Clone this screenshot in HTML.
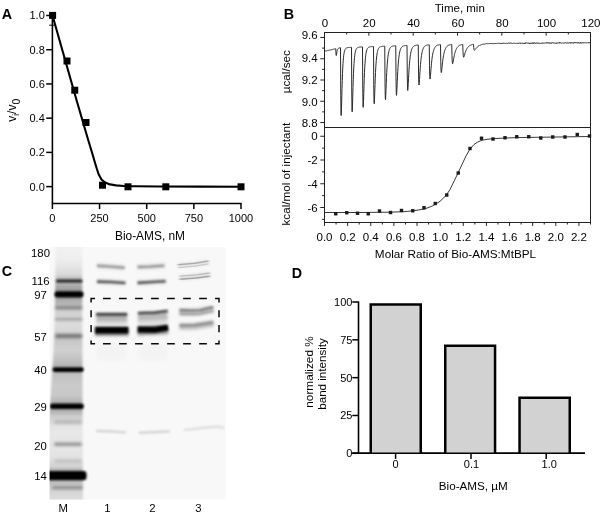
<!DOCTYPE html>
<html><head><meta charset="utf-8"><title>Figure</title>
<style>
html,body{margin:0;padding:0;background:#fff;}
body{width:600px;height:516px;overflow:hidden;}
svg{display:block;font-family:"Liberation Sans", Arial, Helvetica, sans-serif;fill:#000;}
svg path, svg rect{shape-rendering:auto}
</style></head><body>
<svg width="600" height="516" viewBox="0 0 600 516">
<rect width="600" height="516" fill="#fff"/>
<g id="panelC">
<text x="1.8" y="276" font-size="14.3" font-weight="bold">C</text>
<defs>
<filter id="b0" filterUnits="userSpaceOnUse" x="40" y="240" width="195" height="268"><feGaussianBlur stdDeviation="0.9 0.7"/></filter>
<filter id="b1" filterUnits="userSpaceOnUse" x="40" y="240" width="195" height="268"><feGaussianBlur stdDeviation="1.2 1.0"/></filter>
<filter id="b2" filterUnits="userSpaceOnUse" x="40" y="240" width="195" height="268"><feGaussianBlur stdDeviation="1.6 1.5"/></filter>
<filter id="b3" filterUnits="userSpaceOnUse" x="40" y="240" width="195" height="268"><feGaussianBlur stdDeviation="2 2.5"/></filter>
<filter id="bl" x="-20%" y="-5%" width="140%" height="110%"><feGaussianBlur stdDeviation="1.3 0.1"/></filter>
<linearGradient id="lane" gradientUnits="userSpaceOnUse" x1="0" y1="247.0" x2="0" y2="499.6"><stop offset="0.0000" stop-color="#f2f2f2"/><stop offset="0.0435" stop-color="#eeeeee"/><stop offset="0.0752" stop-color="#e6e6e6"/><stop offset="0.1069" stop-color="#dadada"/><stop offset="0.1227" stop-color="#c4c4c4"/><stop offset="0.1504" stop-color="#b0b0b0"/><stop offset="0.1663" stop-color="#a0a0a0"/><stop offset="0.2059" stop-color="#a8a8a8"/><stop offset="0.2257" stop-color="#b8b8b8"/><stop offset="0.2534" stop-color="#d0d0d0"/><stop offset="0.2732" stop-color="#d4d4d4"/><stop offset="0.3009" stop-color="#dcdcdc"/><stop offset="0.3286" stop-color="#d8d8d8"/><stop offset="0.3721" stop-color="#c8c8c8"/><stop offset="0.4078" stop-color="#d0d0d0"/><stop offset="0.4394" stop-color="#c4c4c4"/><stop offset="0.4711" stop-color="#b4b4b4"/><stop offset="0.5028" stop-color="#c0c0c0"/><stop offset="0.5463" stop-color="#cacaca"/><stop offset="0.5859" stop-color="#c8c8c8"/><stop offset="0.6136" stop-color="#b4b4b4"/><stop offset="0.6492" stop-color="#b0b0b0"/><stop offset="0.6690" stop-color="#cccccc"/><stop offset="0.7086" stop-color="#e2e2e2"/><stop offset="0.7324" stop-color="#e8e8e8"/><stop offset="0.7561" stop-color="#e6e6e6"/><stop offset="0.8036" stop-color="#e6e6e6"/><stop offset="0.8353" stop-color="#e2e2e2"/><stop offset="0.8670" stop-color="#d4d4d4"/><stop offset="0.8828" stop-color="#b8b8b8"/><stop offset="0.9264" stop-color="#bcbcbc"/><stop offset="0.9699" stop-color="#d6d6d6"/><stop offset="1.0000" stop-color="#dcdcdc"/></linearGradient>
<clipPath id="gelclip"><rect x="49.6" y="247.0" width="175.8" height="252.60000000000002"/></clipPath>
</defs>
<rect x="49.6" y="247.0" width="175.8" height="252.60000000000002" fill="#f8f8f8"/>
<g clip-path="url(#gelclip)">
<path d="M55.6 245.0L55 300L53.6 350L51.4 385L49 420L47 460L46.5 501.6L83 501.6L82.6 400L82.2 245.0Z" fill="url(#lane)" filter="url(#bl)"/>
<rect x="56" y="279.5" width="26.5" height="3.0" rx="1.5" fill="#111" opacity="0.9" filter="url(#b1)"/>
<rect x="54.5" y="291.2" width="29.0" height="6.4" rx="3" fill="#000" opacity="1" filter="url(#b1)"/>
<rect x="55" y="306.2" width="27.5" height="3.0" rx="1.5" fill="#444" opacity="0.55" filter="url(#b2)"/>
<rect x="55" y="318.1" width="27.5" height="2.4" rx="1.2" fill="#555" opacity="0.45" filter="url(#b2)"/>
<rect x="55" y="333.7" width="27.5" height="4.6" rx="2.3" fill="#333" opacity="0.55" filter="url(#b2)"/>
<rect x="52.5" y="367.20000000000005" width="31.299999999999997" height="4.8" rx="2.4" fill="#000" opacity="1" filter="url(#b1)"/>
<rect x="50" y="403.5" width="33.8" height="5.6" rx="2.8" fill="#000" opacity="1" filter="url(#b1)"/>
<rect x="54" y="420.5" width="28" height="3.0" rx="1.5" fill="#555" opacity="0.3" filter="url(#b2)"/>
<rect x="54" y="442.5" width="28" height="3.4" rx="1.7" fill="#444" opacity="0.5" filter="url(#b2)"/>
<rect x="54" y="459.5" width="28" height="3.0" rx="1.5" fill="#666" opacity="0.25" filter="url(#b2)"/>
<rect x="46" y="471.0" width="40.5" height="9.2" rx="3" fill="#000" opacity="1" filter="url(#b1)"/>
<rect x="52" y="486.3" width="31" height="3.0" rx="1.5" fill="#333" opacity="0.42" filter="url(#b2)"/>
<path d="M97 265.8 L111 266.6 L124.7 267.7" fill="none" stroke="#888" stroke-width="6" opacity="0.18" filter="url(#b2)"/>
<path d="M97 265.8 L111 266.6 L124.7 267.7" fill="none" stroke="#555" stroke-width="2.4" opacity="0.55" filter="url(#b1)"/>
<path d="M97 281.6 L111 282.0 L125.5 283.0" fill="none" stroke="#888" stroke-width="6" opacity="0.18" filter="url(#b2)"/>
<path d="M97 281.6 L111 282.0 L125.5 283.0" fill="none" stroke="#333" stroke-width="2.6" opacity="0.8" filter="url(#b1)"/>
<path d="M96.5 317 L127 317" fill="none" stroke="#666" stroke-width="8" opacity="0.45" filter="url(#b2)"/>
<path d="M96 314.4 L127.3 314.4" fill="none" stroke="#222" stroke-width="3.0" opacity="0.75" filter="url(#b1)"/>
<path d="M96 322.5 L127.5 322.5" fill="none" stroke="#888" stroke-width="6" opacity="0.25" filter="url(#b2)"/>
<path d="M95 331.5 L128.5 331.5" fill="none" stroke="#222" stroke-width="9" opacity="0.5" filter="url(#b2)"/>
<path d="M95.2 330.2 L128.3 330.2" fill="none" stroke="#000" stroke-width="6.4" opacity="1" filter="url(#b1)"/>
<path d="M97 352 L126 352" fill="none" stroke="#888" stroke-width="16" opacity="0.04" filter="url(#b3)"/>
<path d="M96 430.8 L110 431.4 L126 432.5" fill="none" stroke="#777" stroke-width="2.2" opacity="0.3" filter="url(#b1)"/>
<path d="M137.5 267 L150 266.6 L164.5 265.6" fill="none" stroke="#888" stroke-width="6" opacity="0.18" filter="url(#b2)"/>
<path d="M137.5 267 L150 266.6 L164.5 265.6" fill="none" stroke="#555" stroke-width="2.4" opacity="0.58" filter="url(#b1)"/>
<path d="M137.5 282.9 L152 282.0 L165.7 281.2" fill="none" stroke="#888" stroke-width="6" opacity="0.18" filter="url(#b2)"/>
<path d="M137.5 282.9 L152 282.0 L165.7 281.2" fill="none" stroke="#333" stroke-width="2.6" opacity="0.8" filter="url(#b1)"/>
<path d="M138 316.5 L167.5 315" fill="none" stroke="#666" stroke-width="8" opacity="0.42" filter="url(#b2)"/>
<path d="M138 313.2 L155 312.6 L167.8 310.8" fill="none" stroke="#222" stroke-width="2.8" opacity="0.75" filter="url(#b1)"/>
<path d="M138 322 L167.5 321" fill="none" stroke="#888" stroke-width="6" opacity="0.25" filter="url(#b2)"/>
<path d="M137.5 331 L168 329.5" fill="none" stroke="#222" stroke-width="9" opacity="0.5" filter="url(#b2)"/>
<path d="M137.8 329.4 L155 329.8 L168 327.6" fill="none" stroke="#000" stroke-width="6.0" opacity="1" filter="url(#b1)"/>
<path d="M139 352 L167 352" fill="none" stroke="#888" stroke-width="16" opacity="0.04" filter="url(#b3)"/>
<path d="M138.8 432.8 L155 432.2 L170 431.4" fill="none" stroke="#777" stroke-width="2.2" opacity="0.3" filter="url(#b1)"/>
<path d="M177.7 265.6 L195 264.2 L208.6 262.0" fill="none" stroke="#888" stroke-width="5" opacity="0.15" filter="url(#b2)"/>
<path d="M177.7 264.7 L195 263.2 L208.6 260.9" fill="none" stroke="#555" stroke-width="1.5" opacity="0.42" filter="url(#b0)"/>
<path d="M178 267.7 L195 266.1 L208.6 263.9" fill="none" stroke="#777" stroke-width="1.3" opacity="0.3" filter="url(#b0)"/>
<path d="M179.6 277.8 L196 276.4 L209.9 274.6" fill="none" stroke="#888" stroke-width="5.5" opacity="0.18" filter="url(#b2)"/>
<path d="M179.6 279.3 L196 277.9 L209.9 276.2" fill="none" stroke="#444" stroke-width="1.5" opacity="0.42" filter="url(#b0)"/>
<path d="M179.6 276.2 L196 274.8 L209.9 273.0" fill="none" stroke="#666" stroke-width="1.3" opacity="0.32" filter="url(#b0)"/>
<path d="M179.5 312 L196 312 L213 309.5" fill="none" stroke="#888" stroke-width="8" opacity="0.3" filter="url(#b2)"/>
<path d="M179.5 310.2 L190 310.6 L200 310.4 L211.6 307.4 L213.5 307.6" fill="none" stroke="#333" stroke-width="2.4" opacity="0.6" filter="url(#b1)"/>
<path d="M179.5 313.8 L190 314.2 L200 313.8 L211.6 311.0 L213.5 311.2" fill="none" stroke="#555" stroke-width="2.2" opacity="0.45" filter="url(#b1)"/>
<path d="M179.5 326.4 L195 326.2 L213.5 323.4" fill="none" stroke="#777" stroke-width="7" opacity="0.4" filter="url(#b2)"/>
<path d="M179.5 325.4 L195 325.2 L213.5 322.6" fill="none" stroke="#555" stroke-width="3.0" opacity="0.45" filter="url(#b1)"/>
<path d="M183.8 430 L205 427.6 L218 426.6 L224 428" fill="none" stroke="#888" stroke-width="2.2" opacity="0.25" filter="url(#b1)"/>
</g>
<path d="M90.40 298.5H95.10M90.40 343.7H95.10M103.00 298.5H110.70M103.00 343.7H110.70M119.03 298.5H126.73M119.03 343.7H126.73M135.06 298.5H142.76M135.06 343.7H142.76M151.09 298.5H158.79M151.09 343.7H158.79M167.12 298.5H174.82M167.12 343.7H174.82M183.15 298.5H190.85M183.15 343.7H190.85M199.18 298.5H206.88M199.18 343.7H206.88M215.10 298.5H219.70M215.10 343.7H219.70M91.1 297.80V302.60M219.0 297.80V302.60M91.1 310.20V317.30M219.0 310.20V317.30M91.1 325.10V332.30M219.0 325.10V332.30M91.1 340.40V344.40M219.0 340.40V344.40" fill="none" stroke="#0a0a0a" stroke-width="1.5"/>
<text x="40.5" y="257.4" font-size="11.3" text-anchor="middle">180</text>
<text x="40.5" y="285.2" font-size="11.3" text-anchor="middle">116</text>
<text x="40.5" y="298.79999999999995" font-size="11.3" text-anchor="middle">97</text>
<text x="40.5" y="340.59999999999997" font-size="11.3" text-anchor="middle">57</text>
<text x="40.5" y="373.59999999999997" font-size="11.3" text-anchor="middle">40</text>
<text x="40.5" y="410.59999999999997" font-size="11.3" text-anchor="middle">29</text>
<text x="40.5" y="449.79999999999995" font-size="11.3" text-anchor="middle">20</text>
<text x="40.5" y="479.59999999999997" font-size="11.3" text-anchor="middle">14</text>
<text x="63.2" y="511.6" font-size="11.3" text-anchor="middle">M</text>
<text x="107.5" y="511.6" font-size="11.3" text-anchor="middle">1</text>
<text x="152.3" y="511.6" font-size="11.3" text-anchor="middle">2</text>
<text x="198.3" y="511.6" font-size="11.3" text-anchor="middle">3</text>
</g>
<g id="panelA">
<text x="1.8" y="19" font-size="14.3" font-weight="bold">A</text>
<path d="M52.4 14.9V203.5" stroke="#000" stroke-width="1.6" fill="none"/>
<path d="M51.75 203.5H241.6" stroke="#000" stroke-width="1.6" fill="none"/>
<path d="M46.199999999999996 186.60H52.4" stroke="#000" stroke-width="1.5"/>
<text x="44.8" y="190.50" font-size="11" text-anchor="end">0.0</text>
<path d="M46.199999999999996 152.38H52.4" stroke="#000" stroke-width="1.5"/>
<text x="44.8" y="156.28" font-size="11" text-anchor="end">0.2</text>
<path d="M46.199999999999996 118.16H52.4" stroke="#000" stroke-width="1.5"/>
<text x="44.8" y="122.06" font-size="11" text-anchor="end">0.4</text>
<path d="M46.199999999999996 83.94H52.4" stroke="#000" stroke-width="1.5"/>
<text x="44.8" y="87.84" font-size="11" text-anchor="end">0.6</text>
<path d="M46.199999999999996 49.72H52.4" stroke="#000" stroke-width="1.5"/>
<text x="44.8" y="53.62" font-size="11" text-anchor="end">0.8</text>
<path d="M46.199999999999996 15.50H52.4" stroke="#000" stroke-width="1.5"/>
<text x="44.8" y="19.40" font-size="11" text-anchor="end">1.0</text>
<path d="M52.40 203.5V209.1" stroke="#000" stroke-width="1.5"/>
<text x="52.40" y="221.8" font-size="11" text-anchor="middle">0</text>
<path d="M99.55 203.5V209.1" stroke="#000" stroke-width="1.5"/>
<text x="99.55" y="221.8" font-size="11" text-anchor="middle">250</text>
<path d="M146.70 203.5V209.1" stroke="#000" stroke-width="1.5"/>
<text x="146.70" y="221.8" font-size="11" text-anchor="middle">500</text>
<path d="M193.85 203.5V209.1" stroke="#000" stroke-width="1.5"/>
<text x="193.85" y="221.8" font-size="11" text-anchor="middle">750</text>
<path d="M241.00 203.5V209.1" stroke="#000" stroke-width="1.5"/>
<text x="241.00" y="221.8" font-size="11" text-anchor="middle">1000</text>
<path d="M49.2 25.2H54.2" stroke="#000" stroke-width="1"/>
<path d="M52.5 15.5 L76.5 100 L88.5 141 L92 152.5 L95.5 164.5 L98.5 174 L101.5 179.5 L105 182.5 L110 184.4 L116 185.4 L124 186.0 L135 186.3 L160 186.5 L200 186.6 L241 186.7" stroke="#000" stroke-width="2.1" fill="none" stroke-linejoin="round"/>
<rect x="49.1" y="11.9" width="7" height="7" fill="#000"/>
<rect x="63.5" y="57.5" width="7" height="7" fill="#000"/>
<rect x="71.25" y="86.7" width="7" height="7" fill="#000"/>
<rect x="82.5" y="119.0" width="7" height="7" fill="#000"/>
<rect x="99.0" y="181.7" width="7" height="7" fill="#000"/>
<rect x="124.5" y="183.3" width="7" height="7" fill="#000"/>
<rect x="162.3" y="183.3" width="7" height="7" fill="#000"/>
<rect x="237.5" y="183.3" width="7" height="7" fill="#000"/>
<text x="150" y="240.3" font-size="11.9" text-anchor="middle">Bio-AMS, nM</text>
<text transform="translate(15.8 121.8) rotate(-90)" font-size="12">v<tspan font-size="8.5" dy="3.4">i</tspan><tspan dy="-3.4">/v</tspan><tspan font-size="10.5" dy="4.6">0</tspan></text>
</g>
<g id="panelB">
<text x="283.7" y="18.8" font-size="14.3" font-weight="bold">B</text>
<rect x="324.5" y="32.5" width="266.0" height="190.0" fill="none" stroke="#222" stroke-width="1"/>
<path d="M324.5 127.5H590.5" stroke="#222" stroke-width="1"/>
<path d="M324.50 32.5v3.2" stroke="#222" stroke-width="1"/>
<text x="324.90" y="26.8" font-size="11.5" text-anchor="middle">0</text>
<path d="M346.67 32.5v2" stroke="#222" stroke-width="1"/>
<path d="M368.83 32.5v3.2" stroke="#222" stroke-width="1"/>
<text x="369.23" y="26.8" font-size="11.5" text-anchor="middle">20</text>
<path d="M391.00 32.5v2" stroke="#222" stroke-width="1"/>
<path d="M413.17 32.5v3.2" stroke="#222" stroke-width="1"/>
<text x="413.57" y="26.8" font-size="11.5" text-anchor="middle">40</text>
<path d="M435.33 32.5v2" stroke="#222" stroke-width="1"/>
<path d="M457.50 32.5v3.2" stroke="#222" stroke-width="1"/>
<text x="457.90" y="26.8" font-size="11.5" text-anchor="middle">60</text>
<path d="M479.67 32.5v2" stroke="#222" stroke-width="1"/>
<path d="M501.83 32.5v3.2" stroke="#222" stroke-width="1"/>
<text x="502.23" y="26.8" font-size="11.5" text-anchor="middle">80</text>
<path d="M524.00 32.5v2" stroke="#222" stroke-width="1"/>
<path d="M546.17 32.5v3.2" stroke="#222" stroke-width="1"/>
<text x="546.57" y="26.8" font-size="11.5" text-anchor="middle">100</text>
<path d="M568.33 32.5v2" stroke="#222" stroke-width="1"/>
<path d="M590.50 32.5v3.2" stroke="#222" stroke-width="1"/>
<text x="590.90" y="26.8" font-size="11.5" text-anchor="middle">120</text>
<text x="459.8" y="11.8" font-size="11.5" text-anchor="middle">Time, min</text>
<path d="M324.5 37.50h-4.2" stroke="#222" stroke-width="1"/>
<text x="317.7" y="39.40" font-size="11.5" text-anchor="end">9.6</text>
<path d="M324.5 48.12h-2.4" stroke="#222" stroke-width="1"/>
<path d="M324.5 58.75h-4.2" stroke="#222" stroke-width="1"/>
<text x="317.7" y="61.85" font-size="11.5" text-anchor="end">9.4</text>
<path d="M324.5 69.38h-2.4" stroke="#222" stroke-width="1"/>
<path d="M324.5 80.00h-4.2" stroke="#222" stroke-width="1"/>
<text x="317.7" y="83.70" font-size="11.5" text-anchor="end">9.2</text>
<path d="M324.5 90.62h-2.4" stroke="#222" stroke-width="1"/>
<path d="M324.5 101.25h-4.2" stroke="#222" stroke-width="1"/>
<text x="317.7" y="105.75" font-size="11.5" text-anchor="end">9.0</text>
<path d="M324.5 111.87h-2.4" stroke="#222" stroke-width="1"/>
<path d="M324.5 122.50h-4.2" stroke="#222" stroke-width="1"/>
<text x="317.7" y="126.60" font-size="11.5" text-anchor="end">8.8</text>
<path d="M324.5 136.25h-4.2" stroke="#222" stroke-width="1"/>
<text x="317.7" y="140.35" font-size="11.5" text-anchor="end">0</text>
<path d="M324.5 148.12h-2.4" stroke="#222" stroke-width="1"/>
<path d="M324.5 160.00h-4.2" stroke="#222" stroke-width="1"/>
<text x="317.7" y="164.10" font-size="11.5" text-anchor="end">-2</text>
<path d="M324.5 171.88h-2.4" stroke="#222" stroke-width="1"/>
<path d="M324.5 183.75h-4.2" stroke="#222" stroke-width="1"/>
<text x="317.7" y="187.85" font-size="11.5" text-anchor="end">-4</text>
<path d="M324.5 195.62h-2.4" stroke="#222" stroke-width="1"/>
<path d="M324.5 207.50h-4.2" stroke="#222" stroke-width="1"/>
<text x="317.7" y="211.60" font-size="11.5" text-anchor="end">-6</text>
<path d="M324.5 219.38h-2.4" stroke="#222" stroke-width="1"/>
<path d="M324.50 222.5v3.4" stroke="#222" stroke-width="1"/>
<text x="324.50" y="240.9" font-size="11.5" text-anchor="middle">0.0</text>
<path d="M336.07 222.5v2.0" stroke="#222" stroke-width="1"/>
<path d="M347.63 222.5v3.4" stroke="#222" stroke-width="1"/>
<text x="347.63" y="240.9" font-size="11.5" text-anchor="middle">0.2</text>
<path d="M359.20 222.5v2.0" stroke="#222" stroke-width="1"/>
<path d="M370.76 222.5v3.4" stroke="#222" stroke-width="1"/>
<text x="370.76" y="240.9" font-size="11.5" text-anchor="middle">0.4</text>
<path d="M382.33 222.5v2.0" stroke="#222" stroke-width="1"/>
<path d="M393.89 222.5v3.4" stroke="#222" stroke-width="1"/>
<text x="393.89" y="240.9" font-size="11.5" text-anchor="middle">0.6</text>
<path d="M405.46 222.5v2.0" stroke="#222" stroke-width="1"/>
<path d="M417.02 222.5v3.4" stroke="#222" stroke-width="1"/>
<text x="417.02" y="240.9" font-size="11.5" text-anchor="middle">0.8</text>
<path d="M428.59 222.5v2.0" stroke="#222" stroke-width="1"/>
<path d="M440.15 222.5v3.4" stroke="#222" stroke-width="1"/>
<text x="440.15" y="240.9" font-size="11.5" text-anchor="middle">1.0</text>
<path d="M451.72 222.5v2.0" stroke="#222" stroke-width="1"/>
<path d="M463.28 222.5v3.4" stroke="#222" stroke-width="1"/>
<text x="463.28" y="240.9" font-size="11.5" text-anchor="middle">1.2</text>
<path d="M474.85 222.5v2.0" stroke="#222" stroke-width="1"/>
<path d="M486.41 222.5v3.4" stroke="#222" stroke-width="1"/>
<text x="486.41" y="240.9" font-size="11.5" text-anchor="middle">1.4</text>
<path d="M497.98 222.5v2.0" stroke="#222" stroke-width="1"/>
<path d="M509.54 222.5v3.4" stroke="#222" stroke-width="1"/>
<text x="509.54" y="240.9" font-size="11.5" text-anchor="middle">1.6</text>
<path d="M521.11 222.5v2.0" stroke="#222" stroke-width="1"/>
<path d="M532.67 222.5v3.4" stroke="#222" stroke-width="1"/>
<text x="532.67" y="240.9" font-size="11.5" text-anchor="middle">1.8</text>
<path d="M544.24 222.5v2.0" stroke="#222" stroke-width="1"/>
<path d="M555.80 222.5v3.4" stroke="#222" stroke-width="1"/>
<text x="555.80" y="240.9" font-size="11.5" text-anchor="middle">2.0</text>
<path d="M567.37 222.5v2.0" stroke="#222" stroke-width="1"/>
<path d="M578.93 222.5v3.4" stroke="#222" stroke-width="1"/>
<text x="578.93" y="240.9" font-size="11.5" text-anchor="middle">2.2</text>
<path d="M590.50 222.5v2.0" stroke="#222" stroke-width="1"/>
<text x="455.5" y="257.7" font-size="11.75" text-anchor="middle">Molar Ratio of Bio-AMS:MtBPL</text>
<text transform="translate(289.5 71.7) rotate(-90)" font-size="11.7" text-anchor="middle">µcal/sec</text>
<text transform="translate(289.5 174.2) rotate(-90)" font-size="11.7" text-anchor="middle">kcal/mol of injectant</text>
<path d="M324.50 51.30 L324.75 51.24 L325.00 51.18 L325.25 51.13 L325.50 51.07 L325.75 51.01 L326.00 50.95 L326.25 50.89 L326.50 50.84 L326.75 50.78 L327.00 50.72 L327.25 50.66 L327.50 50.60 L327.75 50.55 L328.00 50.49 L328.25 50.43 L328.50 50.37 L328.75 50.31 L329.00 50.25 L329.25 50.20 L329.50 50.14 L329.75 50.08 L330.00 50.02 L330.25 49.96 L330.50 49.91 L330.75 49.85 L331.00 49.79 L331.25 49.73 L331.50 49.67 L331.75 49.62 L332.00 49.56 L332.25 49.50 L332.50 49.44 L332.75 49.38 L333.00 49.33 L333.25 49.27 L333.50 49.21 L333.75 49.15 L334.00 49.09 L334.25 49.04 L334.50 48.98 L334.75 48.92 L335.00 48.86 L335.25 48.80 L335.50 48.75 L335.75 48.69 L336.00 54.28 L336.25 55.54 L336.50 54.47 L336.75 52.91 L337.00 51.52 L337.25 50.43 L337.50 49.65 L337.75 49.10 L338.00 48.72 L338.25 48.46 L338.50 48.27 L338.75 48.13 L339.00 48.02 L339.25 47.93 L339.50 47.85 L339.75 47.78 L340.00 47.71 L340.25 47.70 L340.50 47.69 L340.75 95.37 L341.00 115.48 L341.25 115.48 L341.50 107.82 L341.75 98.10 L342.00 88.69 L342.25 80.46 L342.50 73.61 L342.75 68.06 L343.00 63.63 L343.25 60.12 L343.50 57.36 L343.75 55.20 L344.00 53.51 L344.25 52.19 L344.50 51.16 L344.75 50.35 L345.00 49.72 L345.25 49.22 L345.50 48.84 L345.75 48.53 L346.00 48.30 L346.25 48.11 L346.50 47.96 L346.75 47.84 L347.00 47.75 L347.25 47.68 L347.50 47.62 L347.75 47.57 L348.00 47.53 L348.25 47.50 L348.50 47.47 L348.75 47.45 L349.00 47.43 L349.25 47.41 L349.50 47.39 L349.75 47.38 L350.00 47.36 L350.25 47.35 L350.50 47.34 L350.75 47.33 L351.00 47.32 L351.25 47.31 L351.50 47.30 L351.75 92.01 L352.00 111.32 L352.25 111.84 L352.50 105.05 L352.75 96.18 L353.00 87.46 L353.25 79.74 L353.50 73.24 L353.75 67.91 L354.00 63.61 L354.25 60.18 L354.50 57.44 L354.75 55.27 L355.00 53.56 L355.25 52.20 L355.50 51.12 L355.75 50.28 L356.00 49.60 L356.25 49.07 L356.50 48.65 L356.75 48.32 L357.00 48.06 L357.25 47.85 L357.50 47.68 L357.75 47.54 L358.00 47.44 L358.25 47.35 L358.50 47.28 L358.75 47.22 L359.00 47.18 L359.25 47.14 L359.50 47.11 L359.75 47.08 L360.00 47.05 L360.25 47.03 L360.50 47.02 L360.75 47.00 L361.00 46.99 L361.25 46.97 L361.50 46.96 L361.75 46.95 L362.00 46.94 L362.25 46.93 L362.50 46.92 L362.75 88.23 L363.00 106.46 L363.25 107.38 L363.50 101.46 L363.75 93.48 L364.00 85.52 L364.25 78.40 L364.50 72.35 L364.75 67.33 L365.00 63.24 L365.25 59.94 L365.50 57.28 L365.75 55.16 L366.00 53.45 L366.25 52.09 L366.50 51.01 L366.75 50.14 L367.00 49.44 L367.25 48.89 L367.50 48.44 L367.75 48.09 L368.00 47.80 L368.25 47.57 L368.50 47.39 L368.75 47.24 L369.00 47.12 L369.25 47.02 L369.50 46.94 L369.75 46.88 L370.00 46.83 L370.25 46.78 L370.50 46.74 L370.75 46.71 L371.00 46.69 L371.25 46.66 L371.50 46.64 L371.75 46.62 L372.00 46.61 L372.25 46.59 L372.50 46.58 L372.75 46.57 L373.00 46.56 L373.25 46.55 L373.50 46.53 L373.75 84.68 L374.00 102.15 L374.25 103.74 L374.50 98.88 L374.75 91.91 L375.00 84.77 L375.25 78.25 L375.50 72.61 L375.75 67.85 L376.00 63.89 L376.25 60.64 L376.50 57.98 L376.75 55.81 L377.00 54.04 L377.25 52.60 L377.50 51.42 L377.75 50.47 L378.00 49.69 L378.25 49.06 L378.50 48.54 L378.75 48.12 L379.00 47.78 L379.25 47.50 L379.50 47.27 L379.75 47.08 L380.00 46.93 L380.25 46.80 L380.50 46.70 L380.75 46.61 L381.00 46.54 L381.25 46.48 L381.50 46.43 L381.75 46.38 L382.00 46.35 L382.25 46.32 L382.50 46.29 L382.75 46.27 L383.00 46.25 L383.25 46.23 L383.50 46.21 L383.75 46.20 L384.00 46.18 L384.25 46.17 L384.50 46.16 L384.75 46.15 L385.00 81.14 L385.25 97.66 L385.50 99.73 L385.75 95.77 L386.00 89.73 L386.25 83.39 L386.50 77.49 L386.75 72.30 L387.00 67.85 L387.25 64.10 L387.50 60.97 L387.75 58.37 L388.00 56.21 L388.25 54.42 L388.50 52.94 L388.75 51.72 L389.00 50.71 L389.25 49.88 L389.50 49.19 L389.75 48.61 L390.00 48.14 L390.25 47.75 L390.50 47.42 L390.75 47.15 L391.00 46.93 L391.25 46.74 L391.50 46.59 L391.75 46.46 L392.00 46.35 L392.25 46.26 L392.50 46.18 L392.75 46.12 L393.00 46.06 L393.25 46.02 L393.50 45.98 L393.75 45.94 L394.00 45.91 L394.25 45.88 L394.50 45.86 L394.75 45.84 L395.00 45.82 L395.25 45.80 L395.50 45.79 L395.75 45.78 L396.00 77.60 L396.25 93.02 L396.50 95.38 L396.75 92.20 L397.00 87.01 L397.25 81.43 L397.50 76.16 L397.75 71.45 L398.00 67.37 L398.25 63.88 L398.50 60.92 L398.75 58.43 L399.00 56.34 L399.25 54.59 L399.50 53.11 L399.75 51.88 L400.00 50.85 L400.25 49.98 L400.50 49.25 L400.75 48.64 L401.00 48.13 L401.25 47.70 L401.50 47.34 L401.75 47.04 L402.00 46.79 L402.25 46.57 L402.50 46.39 L402.75 46.24 L403.00 46.11 L403.25 46.00 L403.50 45.91 L403.75 45.83 L404.00 45.76 L404.25 45.70 L404.50 45.65 L404.75 45.61 L405.00 45.57 L405.25 45.54 L405.50 45.51 L405.75 45.49 L406.00 45.46 L406.25 45.44 L406.50 45.42 L406.75 45.41 L407.00 45.39 L407.25 73.86 L407.50 87.97 L407.75 90.47 L408.00 87.96 L408.25 83.58 L408.50 78.76 L408.75 74.13 L409.00 69.95 L409.25 66.28 L409.50 63.11 L409.75 60.39 L410.00 58.07 L410.25 56.10 L410.50 54.43 L410.75 53.01 L411.00 51.81 L411.25 50.79 L411.50 49.92 L411.75 49.19 L412.00 48.56 L412.25 48.04 L412.50 47.59 L412.75 47.21 L413.00 46.88 L413.25 46.61 L413.50 46.37 L413.75 46.17 L414.00 46.00 L414.25 45.86 L414.50 45.73 L414.75 45.62 L415.00 45.53 L415.25 45.45 L415.50 45.39 L415.75 45.33 L416.00 45.28 L416.25 45.23 L416.50 45.19 L416.75 45.16 L417.00 45.13 L417.25 45.10 L417.50 45.07 L417.75 45.05 L418.00 45.03 L418.25 45.01 L418.50 69.94 L418.75 82.53 L419.00 85.02 L419.25 83.10 L419.50 79.47 L419.75 75.39 L420.00 71.43 L420.25 67.81 L420.50 64.60 L420.75 61.80 L421.00 59.37 L421.25 57.28 L421.50 55.49 L421.75 53.95 L422.00 52.63 L422.25 51.50 L422.50 50.54 L422.75 49.71 L423.00 49.00 L423.25 48.39 L423.50 47.87 L423.75 47.43 L424.00 47.05 L424.25 46.72 L424.50 46.44 L424.75 46.20 L425.00 45.99 L425.25 45.81 L425.50 45.66 L425.75 45.53 L426.00 45.42 L426.25 45.32 L426.50 45.24 L426.75 45.16 L427.00 45.10 L427.25 45.05 L427.50 45.00 L427.75 44.96 L428.00 44.92 L428.25 44.89 L428.50 44.86 L428.75 44.84 L429.00 44.82 L429.25 44.80 L429.50 65.65 L429.75 76.53 L430.00 79.05 L430.25 77.85 L430.50 75.14 L430.75 71.96 L431.00 68.80 L431.25 65.86 L431.50 63.20 L431.75 60.83 L432.00 58.75 L432.25 56.93 L432.50 55.34 L432.75 53.95 L433.00 52.74 L433.25 51.69 L433.50 50.77 L433.75 49.97 L434.00 49.27 L434.25 48.66 L434.50 48.13 L434.75 47.67 L435.00 47.27 L435.25 46.92 L435.50 46.61 L435.75 46.34 L436.00 46.11 L436.25 45.91 L436.50 45.73 L436.75 45.57 L437.00 45.44 L437.25 45.32 L437.50 45.21 L437.75 45.12 L438.00 45.04 L438.25 44.97 L438.50 44.91 L438.75 44.86 L439.00 44.81 L439.25 44.77 L439.50 44.73 L439.75 44.70 L440.00 44.67 L440.25 44.64 L440.50 44.62 L440.75 61.32 L441.00 70.24 L441.25 72.55 L441.50 71.86 L441.75 69.92 L442.00 67.55 L442.25 65.13 L442.50 62.85 L442.75 60.76 L443.00 58.87 L443.25 57.19 L443.50 55.69 L443.75 54.37 L444.00 53.20 L444.25 52.16 L444.50 51.25 L444.75 50.44 L445.00 49.72 L445.25 49.09 L445.50 48.54 L445.75 48.04 L446.00 47.61 L446.25 47.22 L446.50 46.88 L446.75 46.58 L447.00 46.32 L447.25 46.08 L447.50 45.87 L447.75 45.69 L448.00 45.53 L448.25 45.38 L448.50 45.25 L448.75 45.14 L449.00 45.04 L449.25 44.95 L449.50 44.87 L449.75 44.80 L450.00 44.74 L450.25 44.68 L450.50 44.63 L450.75 44.59 L451.00 44.54 L451.25 44.51 L451.50 44.48 L451.75 44.45 L452.00 55.69 L452.25 61.92 L452.50 63.77 L452.75 63.60 L453.00 62.54 L453.25 61.15 L453.50 59.68 L453.75 58.24 L454.00 56.90 L454.25 55.66 L454.50 54.54 L454.75 53.52 L455.00 52.59 L455.25 51.76 L455.50 51.00 L455.75 50.33 L456.00 49.71 L456.25 49.16 L456.50 48.66 L456.75 48.21 L457.00 47.81 L457.25 47.44 L457.50 47.11 L457.75 46.81 L458.00 46.54 L458.25 46.30 L458.50 46.08 L458.75 45.88 L459.00 45.70 L459.25 45.54 L459.50 45.40 L459.75 45.26 L460.00 45.14 L460.25 45.04 L460.50 44.94 L460.75 44.85 L461.00 44.77 L461.25 44.69 L461.50 44.63 L461.75 44.57 L462.00 44.51 L462.25 44.46 L462.50 44.42 L462.75 44.38 L463.00 51.65 L463.25 55.78 L463.50 57.11 L463.75 57.13 L464.00 56.57 L464.25 55.76 L464.50 54.89 L464.75 54.02 L465.00 53.19 L465.25 52.41 L465.50 51.69 L465.75 51.03 L466.00 50.43 L466.25 49.87 L466.50 49.36 L466.75 48.89 L467.00 48.47 L467.25 48.08 L467.50 47.72 L467.75 47.39 L468.00 47.09 L468.25 46.82 L468.50 46.57 L468.75 46.33 L469.00 46.12 L469.25 45.93 L469.50 45.75 L469.75 45.59 L470.00 45.44 L470.25 45.30 L470.50 45.18 L470.75 45.06 L471.00 44.96 L471.25 44.86 L471.50 44.77 L471.75 44.69 L472.00 44.61 L472.25 44.54 L472.50 44.48 L472.75 44.42 L473.00 44.37 L473.25 44.32 L473.50 44.27 L473.75 47.59 L474.00 49.53 L474.25 50.21 L474.50 50.30 L474.75 50.11 L475.00 49.80 L475.25 49.45 L475.50 49.09 L475.75 48.74 L476.00 48.41 L476.25 48.10 L476.50 47.80 L476.75 47.52 L477.00 47.26 L477.25 47.02 L477.50 46.79 L477.75 46.58 L478.00 46.39 L478.25 46.21 L478.50 46.17 L478.75 45.77 L479.00 45.83 L479.25 45.55 L479.50 45.42 L479.75 45.53 L480.00 45.23 L480.25 45.10 L480.50 45.08 L480.75 45.03 L481.00 44.82 L481.25 44.80 L481.50 44.56 L481.75 44.55 L482.00 44.48 L482.25 44.31 L482.50 44.23 L482.75 44.17 L483.00 44.27 L483.25 44.22 L483.50 44.16 L483.75 44.16 L484.00 43.97 L484.25 44.07 L484.50 44.07 L484.75 44.09 L485.00 43.88 L485.25 43.90 L485.50 43.69 L485.75 43.83 L486.00 43.62 L486.25 43.68 L486.50 43.94 L486.75 43.55 L487.00 43.86 L487.25 43.79 L487.50 43.70 L487.75 43.77 L488.00 43.76 L488.25 43.80 L488.50 43.65 L488.75 43.59 L489.00 43.58 L489.25 43.52 L489.50 43.61 L489.75 43.52 L490.00 43.71 L490.25 43.38 L490.50 43.45 L490.75 43.46 L491.00 43.32 L491.25 43.75 L491.50 43.27 L491.75 43.49 L492.00 43.46 L492.25 43.69 L492.50 43.28 L492.75 43.61 L493.00 43.40 L493.25 43.46 L493.50 43.39 L493.75 43.53 L494.00 43.33 L494.25 43.43 L494.50 43.48 L494.75 43.63 L495.00 43.16 L495.25 43.58 L495.50 43.51 L495.75 43.35 L496.00 43.43 L496.25 43.34 L496.50 43.57 L496.75 43.40 L497.00 43.35 L497.25 43.34 L497.50 43.34 L497.75 43.34 L498.00 43.25 L498.25 43.57 L498.50 43.13 L498.75 42.94 L499.00 43.31 L499.25 43.31 L499.50 43.36 L499.75 43.29 L500.00 43.29 L500.25 43.38 L500.50 43.52 L500.75 43.20 L501.00 43.22 L501.25 43.72 L501.50 43.41 L501.75 43.08 L502.00 43.80 L502.25 43.46 L502.50 43.16 L502.75 43.03 L503.00 43.35 L503.25 43.10 L503.50 43.05 L503.75 43.00 L504.00 43.17 L504.25 43.52 L504.50 43.18 L504.75 42.96 L505.00 43.42 L505.25 43.29 L505.50 43.46 L505.75 43.53 L506.00 43.23 L506.25 43.23 L506.50 43.25 L506.75 43.01 L507.00 43.41 L507.25 43.56 L507.50 43.30 L507.75 43.21 L508.00 43.20 L508.25 43.08 L508.50 43.08 L508.75 43.16 L509.00 43.07 L509.25 43.15 L509.50 42.90 L509.75 43.32 L510.00 43.26 L510.25 42.99 L510.50 42.74 L510.75 43.24 L511.00 43.48 L511.25 43.08 L511.50 43.13 L511.75 43.11 L512.00 43.38 L512.25 43.03 L512.50 43.45 L512.75 43.16 L513.00 43.43 L513.25 43.23 L513.50 43.17 L513.75 42.90 L514.00 43.07 L514.25 43.16 L514.50 43.36 L514.75 43.27 L515.00 43.06 L515.25 43.31 L515.50 43.43 L515.75 43.18 L516.00 43.11 L516.25 43.12 L516.50 43.39 L516.75 43.33 L517.00 43.00 L517.25 43.29 L517.50 43.10 L517.75 43.04 L518.00 43.47 L518.25 43.38 L518.50 43.04 L518.75 43.21 L519.00 43.30 L519.25 43.05 L519.50 43.17 L519.75 43.34 L520.00 42.80 L520.25 43.26 L520.50 43.35 L520.75 43.30 L521.00 42.89 L521.25 43.25 L521.50 42.99 L521.75 43.30 L522.00 43.31 L522.25 43.22 L522.50 43.01 L522.75 43.04 L523.00 43.36 L523.25 42.97 L523.50 43.28 L523.75 43.28 L524.00 43.11 L524.25 43.69 L524.50 43.18 L524.75 43.63 L525.00 42.72 L525.25 42.67 L525.50 43.37 L525.75 43.30 L526.00 43.09 L526.25 43.14 L526.50 42.73 L526.75 43.01 L527.00 42.92 L527.25 43.10 L527.50 43.34 L527.75 43.16 L528.00 43.23 L528.25 42.99 L528.50 43.05 L528.75 43.16 L529.00 43.08 L529.25 43.42 L529.50 42.94 L529.75 43.55 L530.00 42.92 L530.25 43.37 L530.50 42.96 L530.75 43.49 L531.00 43.16 L531.25 43.21 L531.50 43.29 L531.75 42.98 L532.00 42.89 L532.25 42.68 L532.50 43.39 L532.75 42.96 L533.00 42.99 L533.25 43.11 L533.50 43.55 L533.75 42.73 L534.00 43.17 L534.25 43.02 L534.50 43.23 L534.75 42.71 L535.00 43.02 L535.25 43.29 L535.50 43.45 L535.75 43.45 L536.00 42.91 L536.25 43.11 L536.50 43.07 L536.75 42.79 L537.00 42.78 L537.25 43.26 L537.50 43.15 L537.75 43.06 L538.00 43.36 L538.25 42.87 L538.50 43.20 L538.75 43.09 L539.00 43.07 L539.25 43.19 L539.50 43.12 L539.75 43.14 L540.00 43.14 L540.25 43.50 L540.50 43.01 L540.75 43.30 L541.00 43.21 L541.25 42.99 L541.50 43.24 L541.75 42.88 L542.00 43.32 L542.25 42.89 L542.50 42.96 L542.75 43.13 L543.00 43.24 L543.25 43.26 L543.50 43.25 L543.75 43.01 L544.00 42.85 L544.25 43.18 L544.50 43.12 L544.75 42.84 L545.00 43.26 L545.25 43.09 L545.50 42.84 L545.75 43.14 L546.00 42.75 L546.25 42.85 L546.50 43.13 L546.75 42.70 L547.00 43.05 L547.25 42.74 L547.50 43.20 L547.75 42.87 L548.00 43.07 L548.25 42.70 L548.50 42.95 L548.75 43.24 L549.00 43.13 L549.25 42.62 L549.50 43.23 L549.75 43.22 L550.00 42.94 L550.25 43.33 L550.50 42.79 L550.75 43.00 L551.00 43.26 L551.25 43.30 L551.50 43.30 L551.75 42.77 L552.00 42.62 L552.25 43.10 L552.50 42.69 L552.75 42.98 L553.00 42.72 L553.25 43.24 L553.50 43.18 L553.75 43.12 L554.00 43.00 L554.25 43.01 L554.50 42.93 L554.75 43.08 L555.00 43.05 L555.25 43.09 L555.50 42.90 L555.75 43.41 L556.00 43.05 L556.25 43.29 L556.50 43.28 L556.75 42.79 L557.00 42.61 L557.25 43.26 L557.50 42.90 L557.75 43.00 L558.00 42.92 L558.25 43.01 L558.50 42.71 L558.75 42.95 L559.00 42.87 L559.25 42.97 L559.50 42.46 L559.75 43.15 L560.00 43.04 L560.25 42.59 L560.50 42.80 L560.75 42.97 L561.00 43.10 L561.25 42.96 L561.50 43.26 L561.75 42.96 L562.00 42.74 L562.25 42.81 L562.50 43.12 L562.75 42.82 L563.00 43.14 L563.25 43.17 L563.50 43.08 L563.75 43.17 L564.00 42.91 L564.25 42.94 L564.50 42.81 L564.75 42.81 L565.00 42.59 L565.25 42.82 L565.50 42.70 L565.75 42.62 L566.00 42.97 L566.25 43.03 L566.50 42.86 L566.75 43.23 L567.00 43.13 L567.25 43.16 L567.50 42.79 L567.75 42.60 L568.00 43.04 L568.25 42.99 L568.50 43.08 L568.75 43.01 L569.00 43.19 L569.25 42.85 L569.50 43.06 L569.75 42.72 L570.00 42.40 L570.25 42.81 L570.50 43.24 L570.75 42.54 L571.00 43.13 L571.25 42.75 L571.50 42.81 L571.75 42.91 L572.00 42.95 L572.25 42.68 L572.50 42.92 L572.75 42.99 L573.00 43.08 L573.25 42.73 L573.50 43.23 L573.75 43.31 L574.00 43.42 L574.25 42.59 L574.50 42.92 L574.75 42.48 L575.00 42.97 L575.25 43.00 L575.50 42.63 L575.75 42.53 L576.00 42.92 L576.25 43.01 L576.50 42.70 L576.75 42.82 L577.00 42.32 L577.25 42.72 L577.50 42.90 L577.75 42.90 L578.00 43.21 L578.25 42.61 L578.50 42.37 L578.75 42.96 L579.00 42.73 L579.25 42.92 L579.50 43.02 L579.75 42.99 L580.00 43.17 L580.25 43.15 L580.50 42.49 L580.75 42.84 L581.00 43.29 L581.25 42.76 L581.50 43.06 L581.75 42.83 L582.00 42.75 L582.25 43.19 L582.50 43.07 L582.75 42.79 L583.00 43.04 L583.25 42.55 L583.50 42.68 L583.75 43.03 L584.00 42.84 L584.25 42.60 L584.50 42.93 L584.75 42.90 L585.00 43.11 L585.25 43.04 L585.50 42.76 L585.75 42.72 L586.00 42.79 L586.25 42.77 L586.50 43.14 L586.75 43.17 L587.00 43.12 L587.25 42.90 L587.50 42.76 L587.75 43.01 L588.00 42.73 L588.25 42.86 L588.50 42.44 L588.75 42.71 L589.00 43.12 L589.25 42.58 L589.50 42.47 L589.75 42.77 L590.00 43.17 L590.25 43.12 L590.50 42.72" stroke="#2a2a2a" stroke-width="1" fill="none" stroke-linejoin="round"/>
<path d="M324.5 212.5 L360 212.5 L390 212.2 L405 211.6 L415 210.6 L425 208.8 L432 206.2 L440 201.3 L446 195.5 L450 189.5 L458.25 172.5 L466 156 L470 149 L474 144.5 L478 141.8 L482 140.3 L487 139.3 L493 138.7 L505 138.0 L520 137.5 L545 137.2 L570 136.8 L590 136.5" stroke="#222" stroke-width="0.9" fill="none" stroke-linejoin="round"/>
<rect x="334.05" y="212.05" width="3.4" height="3.4" fill="#1a1a1a"/>
<rect x="345.05" y="211.05" width="3.4" height="3.4" fill="#1a1a1a"/>
<rect x="355.80" y="211.55" width="3.4" height="3.4" fill="#1a1a1a"/>
<rect x="366.55" y="212.05" width="3.4" height="3.4" fill="#1a1a1a"/>
<rect x="377.80" y="209.30" width="3.4" height="3.4" fill="#1a1a1a"/>
<rect x="388.80" y="210.80" width="3.4" height="3.4" fill="#1a1a1a"/>
<rect x="399.80" y="208.80" width="3.4" height="3.4" fill="#1a1a1a"/>
<rect x="411.05" y="209.05" width="3.4" height="3.4" fill="#1a1a1a"/>
<rect x="422.30" y="206.05" width="3.4" height="3.4" fill="#1a1a1a"/>
<rect x="433.55" y="201.80" width="3.4" height="3.4" fill="#1a1a1a"/>
<rect x="445.05" y="193.30" width="3.4" height="3.4" fill="#1a1a1a"/>
<rect x="456.55" y="171.30" width="3.4" height="3.4" fill="#1a1a1a"/>
<rect x="468.30" y="146.80" width="3.4" height="3.4" fill="#1a1a1a"/>
<rect x="479.80" y="136.55" width="3.4" height="3.4" fill="#1a1a1a"/>
<rect x="491.30" y="137.30" width="3.4" height="3.4" fill="#1a1a1a"/>
<rect x="503.30" y="136.05" width="3.4" height="3.4" fill="#1a1a1a"/>
<rect x="515.05" y="135.05" width="3.4" height="3.4" fill="#1a1a1a"/>
<rect x="527.05" y="135.05" width="3.4" height="3.4" fill="#1a1a1a"/>
<rect x="539.05" y="136.30" width="3.4" height="3.4" fill="#1a1a1a"/>
<rect x="551.05" y="135.30" width="3.4" height="3.4" fill="#1a1a1a"/>
<rect x="563.30" y="135.30" width="3.4" height="3.4" fill="#1a1a1a"/>
<rect x="575.55" y="132.80" width="3.4" height="3.4" fill="#1a1a1a"/>
<rect x="587.80" y="134.30" width="3.4" height="3.4" fill="#1a1a1a"/>
</g>
<g id="panelD">
<text x="291.7" y="278" font-size="14.3" font-weight="bold">D</text>
<path d="M358.5 301.4V453.3" stroke="#000" stroke-width="1.6" fill="none"/>
<path d="M352.3 453.3H585" stroke="#000" stroke-width="1.6" fill="none"/>
<path d="M352.3 453.30H358.5" stroke="#000" stroke-width="1.5"/>
<text x="352.4" y="457.20" font-size="11" text-anchor="end">0</text>
<path d="M352.3 415.48H358.5" stroke="#000" stroke-width="1.5"/>
<text x="352.4" y="419.38" font-size="11" text-anchor="end">25</text>
<path d="M352.3 377.65H358.5" stroke="#000" stroke-width="1.5"/>
<text x="352.4" y="381.55" font-size="11" text-anchor="end">50</text>
<path d="M352.3 339.83H358.5" stroke="#000" stroke-width="1.5"/>
<text x="352.4" y="343.73" font-size="11" text-anchor="end">75</text>
<path d="M352.3 302.00H358.5" stroke="#000" stroke-width="1.5"/>
<text x="352.4" y="305.90" font-size="11" text-anchor="end">100</text>
<rect x="370.75" y="304.5" width="50.0" height="148.8" fill="#d2d2d2"/>
<path d="M370.75 453.3V304.5H420.75V453.3" fill="none" stroke="#000" stroke-width="2.5" stroke-linejoin="miter"/>
<path d="M395.6 453.3v5.6" stroke="#000" stroke-width="1.5"/>
<text x="395.6" y="468.1" font-size="11" text-anchor="middle">0</text>
<rect x="445.25" y="345.75" width="49.80000000000001" height="107.55000000000001" fill="#d2d2d2"/>
<path d="M445.25 453.3V345.75H495.05V453.3" fill="none" stroke="#000" stroke-width="2.5" stroke-linejoin="miter"/>
<path d="M471.0 453.3v5.6" stroke="#000" stroke-width="1.5"/>
<text x="471.5" y="468.1" font-size="11" text-anchor="middle">0.1</text>
<rect x="519.55" y="397.65" width="50.200000000000045" height="55.650000000000034" fill="#d2d2d2"/>
<path d="M519.55 453.3V397.65H569.75V453.3" fill="none" stroke="#000" stroke-width="2.5" stroke-linejoin="miter"/>
<path d="M546.2 453.3v5.6" stroke="#000" stroke-width="1.5"/>
<text x="549.2" y="468.1" font-size="11" text-anchor="middle">1.0</text>
<path d="M352.3 453.3H585" stroke="#000" stroke-width="1.6" fill="none"/>
<text x="473.3" y="490.3" font-size="11.7" text-anchor="middle">Bio-AMS, µM</text>
<text transform="translate(313.1 372) rotate(-90)" font-size="11.8" text-anchor="middle">normalized %</text>
<text transform="translate(326.4 374) rotate(-90)" font-size="11.6" text-anchor="middle">band intensity</text>
</g>
</svg>
</body></html>
